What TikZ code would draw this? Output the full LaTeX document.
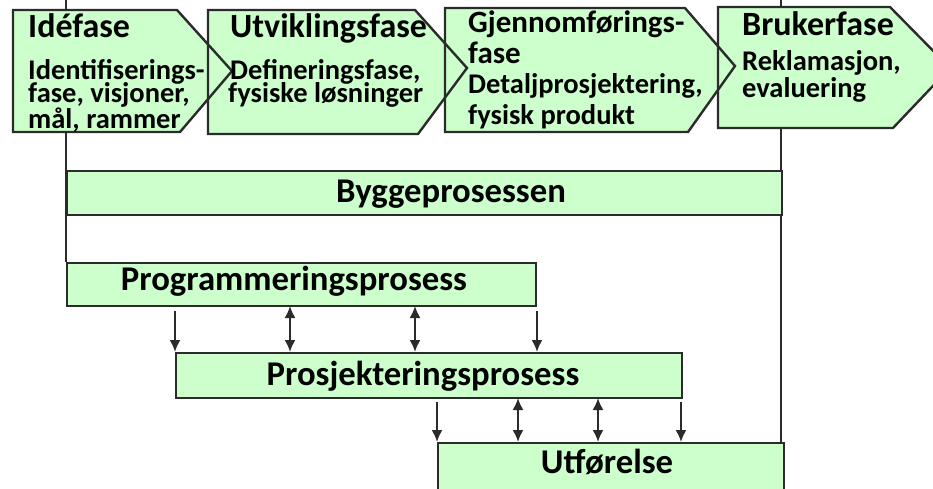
\documentclass[tikz,border=0pt]{standalone}
\usepackage{fontspec}
\setmainfont{Carlito}
\usetikzlibrary{arrows.meta,backgrounds}
\definecolor{phasegreen}{HTML}{CCFFCC}
\definecolor{edgegrey}{HTML}{2B2B2B}
\begin{document}
\begin{tikzpicture}[x=1pt,y=-1pt,
  outline/.style={draw=edgegrey, line width=2.4pt, line join=miter},
  bandbox/.style={outline, fill=phasegreen, rectangle, inner sep=0pt, anchor=north west},
  phasetitle/.style={font=\fontsize{34}{34}\selectfont\bfseries, anchor=base west, inner sep=0pt},
  phasetext/.style={font=\fontsize{28.5}{28.5}\selectfont\bfseries, anchor=base west, inner sep=0pt},
  bandlabel/.style={font=\fontsize{34.7}{34.7}\selectfont\bfseries, anchor=base, inner sep=0pt},
  link/.style={draw=edgegrey, line width=2.2pt},
  tip/.tip={Latex[length=12pt,width=11pt]},
  flow/.style={draw=edgegrey, line width=2pt, -tip},
  twoway/.style={draw=edgegrey, line width=2pt, tip-tip}
]
\useasboundingbox (0,0) rectangle (933,488);
\clip (0,0) rectangle (933,488);

% process bands
\node[bandbox, minimum width=715pt, minimum height=44pt] (bygg) at (66,170) {};
\node[bandbox, minimum width=469pt, minimum height=43pt] (prog) at (66,262) {};
\node[bandbox, minimum width=506pt, minimum height=45pt] (prosj) at (175,352) {};
\node[bandbox, minimum width=346pt, minimum height=60pt] (utf) at (437,442) {};

% vertical frame lines running behind phases and bands
\coordinate (ltop) at (66,0);
\coordinate (rtop) at (781,0);
\begin{scope}[on background layer]
  \draw[link] (ltop) -- (ltop |- prog.north);
  \draw[link] (rtop) -- (rtop |- utf.north);
\end{scope}

% phase chevrons: fills first, then outlines
\path[fill=phasegreen] (13,10) -- (177,10) -- (232,71) -- (180,132) -- (13,132) -- cycle;
\path[fill=phasegreen] (208,10) -- (415,10) -- (467,68) -- (418,134) -- (208,134) -- cycle;
\path[fill=phasegreen] (445,8) -- (685,8) -- (735,66) -- (688,132) -- (445,132) -- cycle;
\path[fill=phasegreen] (718,7) -- (890,7) -- (950,68) -- (893,128) -- (718,128) -- cycle;
\draw[outline] (13,10) -- (177,10) -- (232,71) -- (180,132) -- (13,132) -- cycle;
\draw[outline] (208,10) -- (415,10) -- (467,68) -- (418,134) -- (208,134) -- cycle;
\draw[outline] (445,8) -- (685,8) -- (735,66) -- (688,132) -- (445,132) -- cycle;
\draw[outline] (718,7) -- (890,7) -- (950,68) -- (893,128) -- (718,128) -- cycle;

% phase texts
\node[phasetitle] (t1) at (28,37.5) {Idéfase};
\node[phasetext] (t1a) at (28,79) {Identifiserings-};
\node[phasetext] (t1b) at (28,102) {fase, visjoner,};
\node[phasetext] (t1c) at (28,128) {mål, rammer};

\node[phasetitle] (t2) at (230,37.5) {Utviklingsfase};
\node[phasetext] (t2a) at (230,79) {Defineringsfase,};
\node[phasetext] (t2b) at (228,102) {fysiske løsninger};

\node[phasetitle, font=\fontsize{31}{31}\selectfont\bfseries] (t3) at (468,32) {Gjennomførings-};
\node[phasetitle, font=\fontsize{31}{31}\selectfont\bfseries] (t3a) at (468,63) {fase};
\node[phasetext] (t3b) at (468,93) {Detaljprosjektering,};
\node[phasetext] (t3c) at (468,124) {fysisk produkt};

\node[phasetitle] (t4) at (742,35) {Brukerfase};
\node[phasetext] (t4a) at (742,70) {Reklamasjon,};
\node[phasetext] (t4b) at (742,97) {evaluering};

% band labels
\node[bandlabel] (l1) at (451,202) {Byggeprosessen};
\node[bandlabel] (l2) at (294,290) {Programmeringsprosess};
\node[bandlabel] (l3) at (423,385) {Prosjekteringsprosess};
\node[bandlabel] (l4) at (607,473) {Utførelse};

% information flow between programming and design
\draw[flow]   (175,311) -- (175,311 |- prosj.north);
\draw[twoway] (290,306) -- (290,306 |- prosj.north);
\draw[twoway] (415,306) -- (415,306 |- prosj.north);
\draw[flow]   (537,311) -- (537,311 |- prosj.north);

% information flow between design and construction
\draw[flow]   (437,402) -- (437,402 |- utf.north);
\draw[twoway] (518,398) -- (518,398 |- utf.north);
\draw[twoway] (598,398) -- (598,398 |- utf.north);
\draw[flow]   (681,402) -- (681,402 |- utf.north);
\end{tikzpicture}
\end{document}
